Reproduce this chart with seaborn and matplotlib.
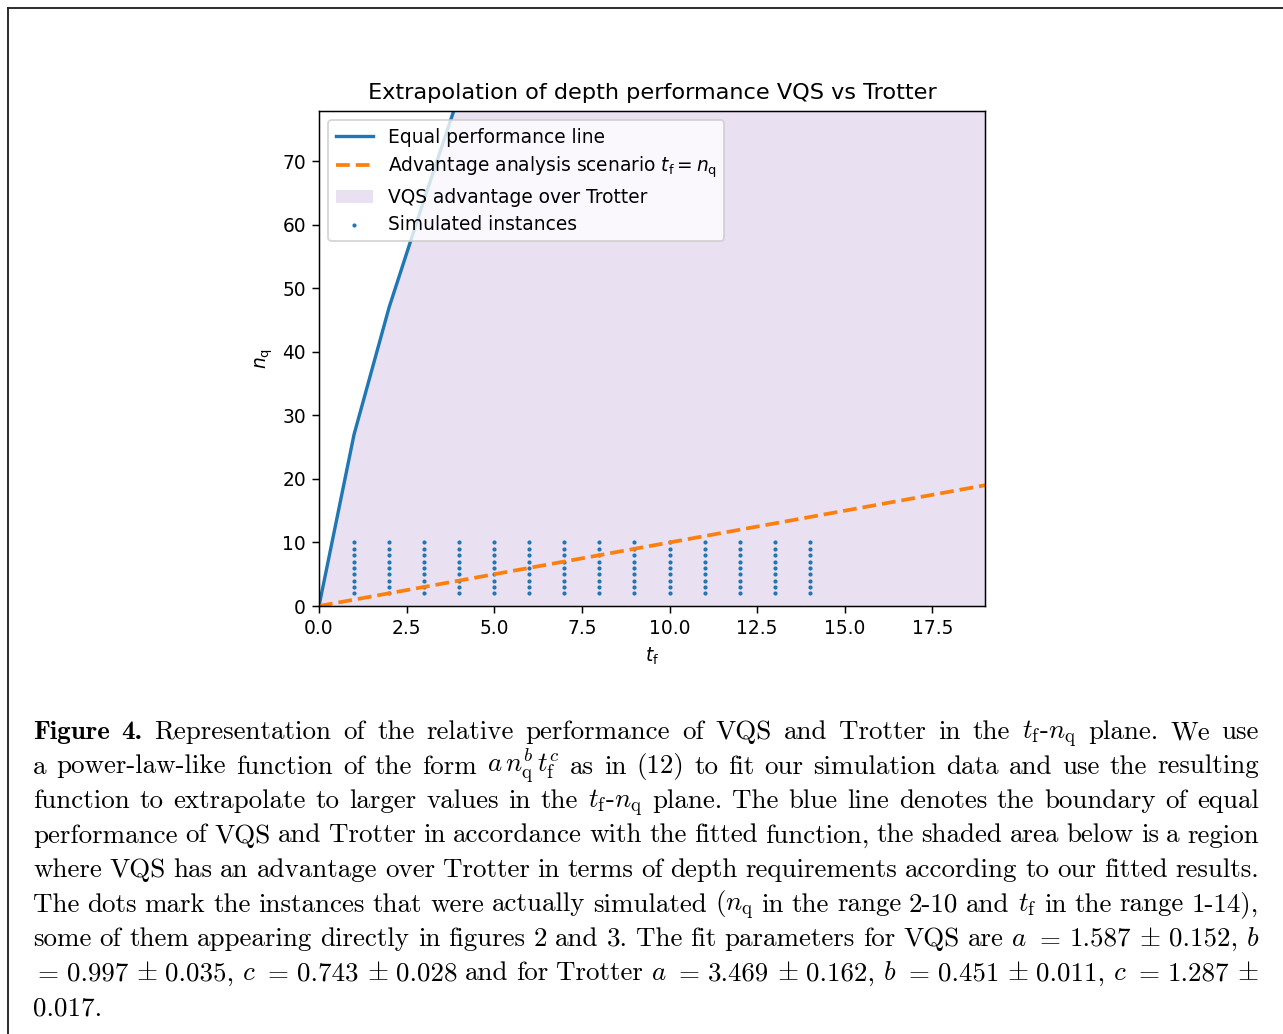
import numpy as np
import pandas as pd
import matplotlib
matplotlib.use("Agg")
import matplotlib.pyplot as plt
import seaborn as sns
from matplotlib.lines import Line2D

# ---------------- data ----------------
tf_equal = [0, 1, 2, 3, 4, 5, 6, 7, 8, 9, 10, 11, 12, 13, 14, 15, 16, 17, 18, 19]
nq_equal = [0, 27, 47, 64, 80.5, 96, 111, 126, 140, 154, 168, 181, 194, 207, 220,
            232, 244, 256, 268, 280]
tf_scenario = [0, 19]
nq_scenario = [0, 19]
tf_sim = [1, 2, 3, 4, 5, 6, 7, 8, 9, 10, 11, 12, 13, 14]
nq_sim = [2, 3, 4, 5, 6, 7, 8, 9, 10]

title = "Extrapolation of depth performance VQS vs Trotter"
lbl_equal = "Equal performance line"
lbl_scen = r"Advantage analysis scenario $t_\mathrm{f} = n_\mathrm{q}$"
lbl_fill = "VQS advantage over Trotter"
lbl_sim = "Simulated instances"

caption_lines = [
    r"Figure 4. Representation of the relative performance of VQS and Trotter in the $t_\mathrm{f}$-$n_\mathrm{q}$ plane. We use",
    r"a power-law-like function of the form $a\,n_\mathrm{q}^b\,t_\mathrm{f}^c$ as in (12) to fit our simulation data and use the resulting",
    r"function to extrapolate to larger values in the $t_\mathrm{f}$-$n_\mathrm{q}$ plane. The blue line denotes the boundary of equal",
    r"performance of VQS and Trotter in accordance with the fitted function, the shaded area below is a region",
    r"where VQS has an advantage over Trotter in terms of depth requirements according to our fitted results.",
    r"The dots mark the instances that were actually simulated ($n_\mathrm{q}$ in the range 2-10 and $t_\mathrm{f}$ in the range 1-14),",
    r"some of them appearing directly in figures 2 and 3. The fit parameters for VQS are $a$ $=$ 1.587 $\pm$ 0.152, $b$",
    r"$=$ 0.997 $\pm$ 0.035, $c$ $=$ 0.743 $\pm$ 0.028 and for Trotter $a$ $=$ 3.469 $\pm$ 0.162, $b$ $=$ 0.451 $\pm$ 0.011, $c$ $=$ 1.287 $\pm$",
    r"0.017.",
]

# ---------------- figure ----------------
W, H, DPI = 1283, 1034, 134
fig = plt.figure(figsize=(W / DPI, H / DPI), dpi=DPI)
fig.patch.set_facecolor("white")

# page border (top and left)
fig.add_artist(Line2D([8 / W, 1.0], [1 - 8 / H, 1 - 8 / H], color="#222222", lw=1.0))
fig.add_artist(Line2D([8 / W, 8 / W], [0.0, 1 - 8 / H], color="#222222", lw=1.0))

ax = fig.add_axes([319 / W, 1 - 606 / H, 666 / W, 495 / H])

df_eq = pd.DataFrame({"tf": tf_equal, "nq": nq_equal})
df_sc = pd.DataFrame({"tf": tf_scenario, "nq": nq_scenario})
TF, NQ = np.meshgrid(tf_sim, nq_sim)
df_sim = pd.DataFrame({"tf": TF.ravel(), "nq": NQ.ravel()})

sns.lineplot(data=df_eq, x="tf", y="nq", ax=ax, color="C0", lw=1.8, label=lbl_equal)
sns.lineplot(data=df_sc, x="tf", y="nq", ax=ax, color="C1", lw=2, linestyle="--",
             label=lbl_scen)
ax.fill_between(df_eq["tf"], 0, df_eq["nq"], color="C4", alpha=0.2, lw=0, label=lbl_fill)
sns.scatterplot(data=df_sim, x="tf", y="nq", ax=ax, color="C0", s=5, linewidth=0,
                label=lbl_sim)

ax.set_xlim(0, 19)
ax.set_ylim(0, 77.9)
ax.set_title(title, pad=6.5)
ax.set_xlabel(r"$t_\mathrm{f}$")
ax.set_ylabel(r"$n_\mathrm{q}$")
ax.legend(loc="upper left", labelspacing=0.42)

# ---------------- caption (justified) ----------------
FS = 14.5
X0, X1 = 33, 1259
baselines = [739, 773.5, 808, 842.5, 877, 911.5, 946, 980.5, 1015]
renderer = fig.canvas.get_renderer()

for li, (line, base) in enumerate(zip(caption_lines, baselines)):
    toks = line.split(" ")
    texts, widths = [], []
    for ti, tok in enumerate(toks):
        bold = (li == 0 and ti < 2)
        t = fig.text(0, 1 - base / H, tok, fontsize=FS,
                     family="cmb10" if bold else "cmr10",
                     math_fontfamily="cm", va="baseline", ha="left")
        texts.append(t)
        widths.append(t.get_window_extent(renderer).width)
    if li < len(caption_lines) - 1 and len(toks) > 1:
        gap = (X1 - X0 - sum(widths)) / (len(toks) - 1)
    else:
        gap = 0.33 * FS * DPI / 72
    x = X0
    for t, w in zip(texts, widths):
        t.set_x(x / W)
        x += w + gap

fig.savefig("out.png", dpi=DPI)
